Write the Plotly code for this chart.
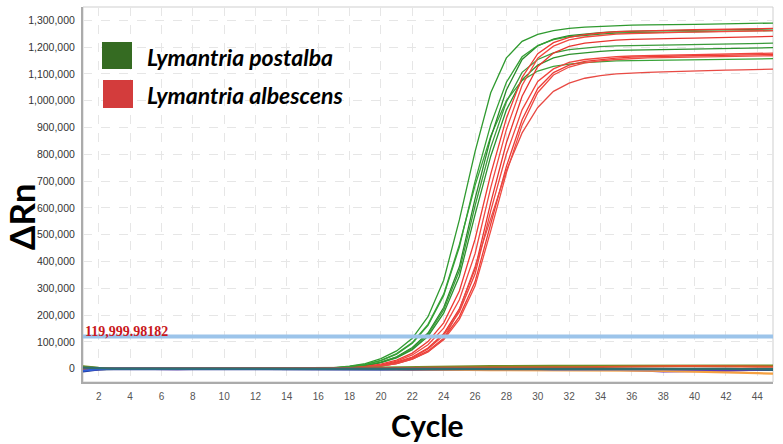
import plotly.graph_objects as go

# ---------------- data (ΔRn in thousands, cycles 1..45) ----------------
cycles = list(range(1, 46))

postalba_k = [
    [4, 1, 0, 0, 0, 0, 0, 1, 1, 1, 1, 1, 1, 1, 1, 2,
     4, 9, 19, 37, 66, 113, 194, 330, 555, 810, 1030, 1160, 1222, 1248, 1262, 1270, 1275, 1278, 1281,
     1282, 1283, 1283, 1284, 1285, 1286, 1287, 1289, 1291, 1290],
    [-3, -1, 0, 0, 0, 0, 0, 0, 0, 0, 0, 1, 1, 1, 1, 1,
     3, 8, 16, 31, 56, 97, 165, 278, 463, 683, 868, 1001, 1076, 1111, 1128, 1137, 1142, 1146, 1149,
     1150, 1151, 1151, 1152, 1153, 1153, 1154, 1155, 1156, 1157],
    [6, 2, 0, 0, -1, -1, 0, 0, 0, 0, 0, 0, 0, 0, 1, 1,
     1, 5, 11, 24, 44, 79, 133, 228, 380, 634, 862, 1040, 1154, 1205, 1230, 1243, 1249, 1254, 1258,
     1260, 1261, 1262, 1263, 1264, 1265, 1266, 1266, 1267, 1268],
    [-5, -1, 0, 0, 0, 0, 0, 0, 0, 0, 0, 0, 0, 0, 0, 1,
     1, 5, 11, 23, 43, 75, 128, 219, 365, 608, 826, 996, 1106, 1154, 1179, 1191, 1197, 1202, 1205,
     1206, 1207, 1209, 1208, 1210, 1211, 1213, 1212, 1214, 1215],
    [2, 0, 0, 0, 0, 0, 0, 0, 0, 0, 0, 0, 0, 0, 0, 0,
     1, 4, 10, 22, 40, 71, 121, 207, 345, 575, 793, 966, 1079, 1133, 1160, 1173, 1179, 1184, 1188,
     1189, 1190, 1192, 1193, 1192, 1194, 1195, 1196, 1197, 1198],
    [8, 2, 1, 0, 0, 0, 0, 0, 0, 0, 0, 0, 0, 0, 0, 1,
     2, 7, 15, 30, 54, 95, 161, 273, 454, 699, 911, 1069, 1164, 1206, 1228, 1239, 1245, 1249, 1253,
     1254, 1255, 1256, 1257, 1258, 1258, 1259, 1260, 1261, 1262],
]

albescens_k = [
    [3, 1, 0, 0, 0, 0, 0, 0, 0, 0, 0, 0, 0, 0, 0, 0,
     1, 3, 8, 17, 32, 58, 101, 171, 290, 483, 726, 935, 1087, 1176, 1217, 1237, 1247, 1253, 1258,
     1260, 1262, 1263, 1264, 1265, 1266, 1267, 1268, 1269, 1270],
    [-2, 0, 0, 0, 0, 0, 0, 0, 0, 0, 0, 0, 0, 0, 0, 0,
     0, 2, 6, 14, 28, 51, 89, 151, 257, 429, 676, 893, 1058, 1159, 1204, 1227, 1238, 1244, 1249,
     1251, 1253, 1254, 1255, 1256, 1257, 1258, 1259, 1260, 1262],
    [5, 1, 0, 0, 0, 0, 0, 0, 0, 0, 0, 0, 0, 0, 0, 0,
     0, 1, 5, 11, 24, 43, 77, 130, 223, 372, 620, 843, 1017, 1128, 1178, 1203, 1215, 1221, 1226,
     1229, 1231, 1232, 1233, 1234, 1235, 1236, 1237, 1238, 1240],
    [-6, -1, 0, 0, 0, 0, 0, 0, 0, 0, 0, 0, 0, 0, 0, 0,
     0, 1, 5, 11, 22, 41, 73, 124, 212, 353, 589, 801, 966, 1072, 1119, 1143, 1154, 1160, 1165,
     1167, 1169, 1170, 1171, 1172, 1173, 1174, 1175, 1176, 1178],
    [1, 0, 0, 0, 0, 0, 0, 0, 0, 0, 0, 0, 0, 0, 0, 0,
     0, 1, 4, 9, 20, 37, 66, 113, 194, 324, 540, 755, 929, 1046, 1105, 1133, 1147, 1154, 1159, 1163,
     1165, 1166, 1167, 1168, 1169, 1170, 1171, 1172, 1173],
    [-1, 0, 0, 0, 0, 0, 0, 0, 0, 0, 0, 0, 0, 0, 0, 0,
     0, 1, 4, 9, 19, 35, 63, 108, 184, 308, 514, 731, 909, 1031, 1096, 1126, 1141, 1149, 1154, 1158,
     1160, 1161, 1162, 1163, 1164, 1165, 1166, 1167, 1168],
    [2, 0, 0, 0, 0, 0, 0, 0, 0, 0, 0, 0, 0, 0, 0, 0,
     0, 2, 5, 10, 19, 35, 62, 110, 220, 380, 560, 740, 880, 975, 1035, 1066, 1084, 1094, 1100,
     1104, 1106, 1108, 1110, 1111, 1112, 1114, 1115, 1116, 1118],
]

# non-amplifying wells (baseline band)
baseline_k = [
    [8, 3, 1, 0, 0, 0, 0, 1, 1, 1, 1, 1, 1, 1, 1, 2, 2, 3, 3, 4, 5, 6, 7, 8, 8, 9, 9, 9, 10, 10,
     10, 10, 10, 10, 10, 10, 11, 11, 11, 11, 11, 11, 11, 11, 11],
    [-6, -2, -1, 0, 0, -1, -1, 0, 0, 0, 0, 0, 0, 0, 0, -1, -1, -1, -1, -2, -2, -2, -2, -3, -3, -3, -3, -3, -3, -3,
     -3, -3, -3, -3, -3, -3, -4, -4, -4, -4, -4, -4, -5, -5, -5],
    [-10, -3, -1, -1, -2, -2, -1, -1, -1, -1, -1, -1, -1, -2, -2, -2, -2, -3, -3, -3, -3, -4, -4, -4, -4, -4, -4, -4, -4, -4,
     -4, -4, -4, -4, -4, -3, -3, -3, -3, -3, -3, -2, -2, -1, -1],
    [-4, -1, 0, 0, -1, -2, -2, -1, -1, 0, 0, 0, 0, 0, 0, 0, 0, 0, -1, -1, -1, -1, -1, -1, -1, -1, -1, -1, -1, -1,
     -1, -1, -2, -3, -4, -6, -8, -10, -10, -10, -9, -8, -6, -4, -2],
    [2, 0, 0, 0, 0, 0, 0, 0, 0, 0, 0, 0, 0, 0, 1, 1, 1, 0, 0, -1, -2, -3, -4, -5, -5, -6, -6, -6, -6, -6,
     -6, -7, -7, -7, -7, -8, -8, -9, -10, -11, -12, -14, -15, -17, -19],
    [1, 1, 0, 0, 0, 0, 0, 0, 1, 1, 1, 1, 1, 1, 1, 1, 2, 2, 2, 2, 2, 2, 3, 3, 3, 3, 3, 3, 3, 3,
     4, 4, 5, 6, 7, 8, 8, 8, 9, 9, 9, 8, 8, 8, 7],
    [-8, -2, 0, 0, 0, 0, 0, 0, 0, 0, 0, -1, -1, -1, -1, -1, -1, -1, -1, -2, -2, -2, -2, -2, -2, -2, -2, -2, -2, -2,
     -3, -3, -3, -3, -3, -3, -3, -2, -2, -2, -2, -2, -2, -2, -2],
    [4, 1, 0, 0, 0, 0, 0, 1, 1, 1, 1, 1, 1, 1, 0, 0, 0, 0, 0, 0, 0, 0, 0, 0, 0, 0, 0, 0, 0, 0,
     0, 1, 1, 1, 1, 1, 1, 1, 0, 0, -1, -1, -2, -2, -2],
]

threshold = 119999.98182
threshold_label = "119,999.98182"
species = ["Lymantria postalba", "Lymantria albescens"]
x_ticks = list(range(2, 45, 2))
y_ticks = list(range(0, 1300001, 100000))

# ---------------- styling ----------------
green_cols = ["#2f9a2f", "#3aa33a", "#2a8a2a", "#3b9b3b", "#2d922d", "#34a034"]
red_cols = ["#ee3a33", "#f24840", "#e8342e", "#f0453d", "#ec3b35", "#f04a42", "#e84a44"]
base_cols = ["#6f8f25", "#1f6b3a", "#1d2f8e", "#6a2aa8", "#f5a040", "#e0552a", "#2e5fd8", "#2f6f6f"]

fig = go.Figure()

for vals, col in zip(postalba_k, green_cols):
    fig.add_trace(go.Scatter(x=cycles, y=[v * 1000 for v in vals], mode="lines",
                             line=dict(color=col, width=1.3), showlegend=False, hoverinfo="skip"))
for vals, col in zip(albescens_k, red_cols):
    fig.add_trace(go.Scatter(x=cycles, y=[v * 1000 for v in vals], mode="lines",
                             line=dict(color=col, width=1.3), showlegend=False, hoverinfo="skip"))
for vals, col in zip(baseline_k, base_cols):
    fig.add_trace(go.Scatter(x=cycles, y=[v * 1000 for v in vals], mode="lines",
                             line=dict(color=col, width=2.2), showlegend=False, hoverinfo="skip"))

# threshold line
fig.add_trace(go.Scatter(x=[1, 45], y=[threshold, threshold], mode="lines",
                         line=dict(color="#9cc4ea", width=4), showlegend=False, hoverinfo="skip"))

# plot geometry in pixels (for paper-referenced decorations)
L, R, T, B = 83, 773, 7, 382
W, H = R - L, B - T
def px(x):
    return (x - L) / W
def py(y):
    return (B - y) / H

shapes = [
    dict(type="rect", xref="paper", yref="paper", x0=0, x1=1, y0=0, y1=1,
         line=dict(color="#cfcfcf", width=1), layer="below"),
    dict(type="rect", xref="paper", yref="paper", x0=px(102), x1=px(132), y0=py(69), y1=py(42),
         fillcolor="#356b22", line=dict(color="#356b22", width=0)),
    dict(type="rect", xref="paper", yref="paper", x0=px(103), x1=px(133), y0=py(108), y1=py(80),
         fillcolor="#d33c3c", line=dict(color="#d33c3c", width=0)),
]

annotations = [
    dict(text="<b><i>" + species[0] + "</i></b>", xref="paper", yref="paper", x=px(145), y=py(57),
         xanchor="left", yanchor="middle", showarrow=False,
         font=dict(family="Lato, 'Open Sans', sans-serif", size=23, color="#000000")),
    dict(text="<b><i>" + species[1] + "</i></b>", xref="paper", yref="paper", x=px(145), y=py(95),
         xanchor="left", yanchor="middle", showarrow=False,
         font=dict(family="Lato, 'Open Sans', sans-serif", size=23, color="#000000")),
    dict(text="<b>" + threshold_label + "</b>", xref="paper", yref="paper", x=0, y=py(331),
         xanchor="left", yanchor="middle", showarrow=False,
         font=dict(family="'Liberation Serif', 'Times New Roman', serif", size=14, color="#c8171c")),
    dict(text="<b>ΔRn</b>", xref="paper", yref="paper", x=px(21), y=py(217),
         xanchor="center", yanchor="middle", textangle=-90, showarrow=False,
         font=dict(family="Lato, 'Open Sans', sans-serif", size=35, color="#000000")),
    dict(text="<b>Cycle</b>", xref="paper", yref="paper", x=px(427), y=py(425),
         xanchor="center", yanchor="middle", showarrow=False,
         font=dict(family="Lato, 'Open Sans', sans-serif", size=30, color="#000000")),
]

fig.update_layout(
    width=783, height=444,
    margin=dict(l=L, r=783 - R, t=T, b=444 - B),
    paper_bgcolor="white", plot_bgcolor="white",
    shapes=shapes, annotations=annotations,
    showlegend=False,
)
fig.update_xaxes(
    range=[1, 45], tickvals=x_ticks, ticktext=[str(t) for t in x_ticks],
    showgrid=True, gridcolor="#e6e6e6", griddash="dash", gridwidth=1,
    zeroline=False, showline=True, linecolor="#ababab", linewidth=2,
    ticks="", ticklabelstandoff=4,
    tickfont=dict(family="'Liberation Sans', Arial, sans-serif", size=10, color="#555555"),
)
fig.update_yaxes(
    range=[-50000, 1350000], tickvals=y_ticks, tickformat=",",
    showgrid=True, gridcolor="#e6e6e6", griddash="dash", gridwidth=1,
    zeroline=False, showline=True, linecolor="#ababab", linewidth=2,
    ticks="", ticklabelstandoff=4,
    tickfont=dict(family="'Liberation Sans', Arial, sans-serif", size=10.5, color="#333333"),
)

fig.write_html("out.html", config={"displayModeBar": False},
               post_script="document.body.style.margin='0';document.body.style.overflow='hidden';")
